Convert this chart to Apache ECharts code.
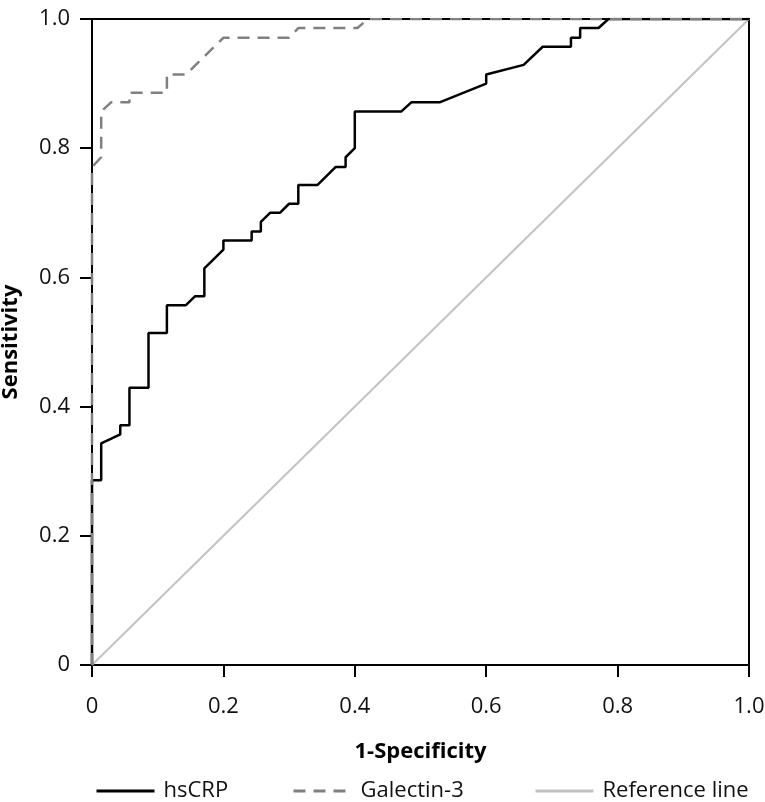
<!DOCTYPE html>
<html>
<head>
<meta charset="utf-8">
<script src="https://cdn.jsdelivr.net/npm/echarts@6/dist/echarts.min.js"></script>
<style>
html,body{margin:0;padding:0;background:#fff;}
#chart{width:765px;height:802px;}
</style>
</head>
<body>
<div id="chart"></div>
<script>
// hsCRP ROC curve (1-specificity, sensitivity)
var hsCrpFpr = [0, 0, 0.014, 0.014, 0.043, 0.043, 0.057, 0.057, 0.086, 0.086, 0.114, 0.114, 0.143, 0.157, 0.171, 0.171, 0.2, 0.2, 0.243, 0.243, 0.257, 0.257, 0.271, 0.286, 0.3, 0.314, 0.314, 0.343, 0.371, 0.386, 0.386, 0.4, 0.4, 0.471, 0.486, 0.529, 0.6, 0.6, 0.657, 0.686, 0.729, 0.729, 0.743, 0.743, 0.771, 0.786, 1.0];
var hsCrpTpr = [0, 0.286, 0.286, 0.343, 0.357, 0.371, 0.371, 0.429, 0.429, 0.514, 0.514, 0.557, 0.557, 0.571, 0.571, 0.614, 0.643, 0.657, 0.657, 0.671, 0.671, 0.686, 0.7, 0.7, 0.714, 0.714, 0.743, 0.743, 0.771, 0.771, 0.786, 0.8, 0.857, 0.857, 0.871, 0.871, 0.9, 0.914, 0.929, 0.957, 0.957, 0.971, 0.971, 0.986, 0.986, 1.0, 1.0];
// Galectin-3 ROC curve
var galFpr = [0, 0, 0.014, 0.014, 0.029, 0.057, 0.057, 0.114, 0.114, 0.143, 0.2, 0.3, 0.314, 0.404, 0.42, 1.0];
var galTpr = [0, 0.771, 0.786, 0.857, 0.871, 0.871, 0.886, 0.886, 0.914, 0.914, 0.971, 0.971, 0.986, 0.986, 1.0, 1.0];
// Reference line
var refX = [0, 1];
var refY = [0, 1];
var seriesNames = ['hsCRP', 'Galectin-3', 'Reference line'];
var tickValues = [0, 0.2, 0.4, 0.6, 0.8, 1.0];
var tickLabels = ['0', '0.2', '0.4', '0.6', '0.8', '1.0'];

function zip(a, b) { return a.map(function (v, i) { return [v, b[i]]; }); }
function fmt(v) {
  for (var i = 0; i < tickValues.length; i++) {
    if (Math.abs(tickValues[i] - v) < 1e-6) return tickLabels[i];
  }
  return '';
}

var FONT = '"Open Sans", "Noto Sans", sans-serif';
var chart = echarts.init(document.getElementById('chart'), null, {renderer: 'canvas'});
var axisCommon = {
  type: 'value', min: 0, max: 1, interval: 0.2,
  axisLine: {show: true, onZero: false, lineStyle: {color: '#000', width: 2}},
  axisTick: {show: true, length: 12, lineStyle: {color: '#000', width: 2}},
  splitLine: {show: false},
  nameLocation: 'middle',
  nameTextStyle: {fontFamily: FONT, fontSize: 22, fontWeight: 'bold', color: '#000'}
};
function legendAt(name, left) {
  return {
    data: [name], left: left, top: 775, itemWidth: 58, itemHeight: 14, itemGap: 0,
    itemStyle: {opacity: 0},
    lineStyle: {width: 3},
    textStyle: {fontFamily: FONT, fontSize: 22, color: '#111', padding: [0, 0, 0, 4]}
  };
}
chart.setOption({
  animation: false,
  backgroundColor: '#fff',
  grid: {left: 92, right: 16, top: 19, bottom: 137, outerBoundsMode: 'none', containLabel: false,
         show: true, borderColor: '#000', borderWidth: 2, backgroundColor: 'transparent'},
  xAxis: Object.assign({}, axisCommon, {
    name: '1-Specificity', nameGap: 76,
    axisLabel: {margin: 31, formatter: fmt, fontFamily: FONT, fontSize: 22, color: '#111'}
  }),
  yAxis: Object.assign({}, axisCommon, {
    name: 'Sensitivity', nameGap: 70,
    axisLabel: {margin: 22, formatter: fmt, fontFamily: FONT, fontSize: 22, color: '#111'}
  }),
  legend: [
    legendAt(seriesNames[0], 90),
    legendAt(seriesNames[1], 287),
    legendAt(seriesNames[2], 529)
  ],
  series: [
    {name: seriesNames[2], type: 'line', data: zip(refX, refY), symbol: 'none', silent: true,
     lineStyle: {color: '#c3c3c3', width: 2}, itemStyle: {color: '#c3c3c3'}, z: 2},
    {name: seriesNames[0], type: 'line', data: zip(hsCrpFpr, hsCrpTpr), symbol: 'none', silent: true,
     lineStyle: {color: '#000', width: 2.5}, itemStyle: {color: '#000'}, z: 3},
    {name: seriesNames[1], type: 'line', data: zip(galFpr, galTpr), symbol: 'none', silent: true,
     lineStyle: {color: '#808080', width: 2.5, type: [12, 8]}, itemStyle: {color: '#808080'}, z: 4}
  ]
});
</script>
</body>
</html>
